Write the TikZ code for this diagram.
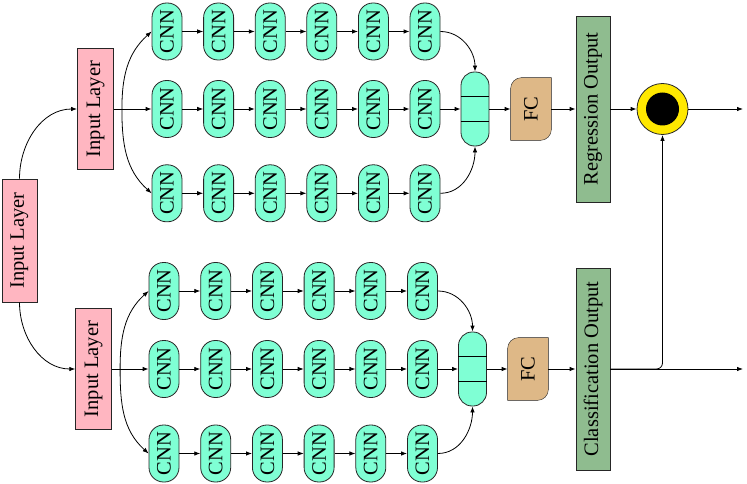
\documentclass[tikz,border=0pt]{standalone}
\usepackage{fontspec}
\setmainfont{Liberation Serif}
\usepackage{graphicx}
\usetikzlibrary{arrows.meta,backgrounds}
\definecolor{cnnfill}{HTML}{7FFFD4}
\definecolor{inpink}{HTML}{FFB6C1}
\definecolor{fctan}{HTML}{DEB887}
\definecolor{outgreen}{HTML}{8FBC8F}
\definecolor{ringyellow}{HTML}{FFE800}
\begin{document}
\begin{tikzpicture}[x=1pt,y=1pt,font=\fontsize{20.5}{24}\selectfont,line width=0.8pt,
  box/.style={draw=black!85,inner sep=0pt},
  cnn/.style={box,fill=cnnfill,rounded corners=14.5pt,minimum width=30pt,minimum height=57pt},
  merge/.style={box,fill=cnnfill,rounded corners=13.5pt,minimum width=28pt,minimum height=74pt},
  inlayer/.style={box,fill=inpink,minimum width=36pt,minimum height=121pt},
  outlayer/.style={box,fill=outgreen,minimum width=34pt},
  fcbox/.style={inner sep=0pt,minimum width=40pt,minimum height=62pt},
  arr/.style={-{Latex[length=6pt,width=4.5pt]}}]
\useasboundingbox (0,0) rectangle (747,483);

\node[inlayer,minimum width=35pt,minimum height=123pt] (in) at (19.5,242.5) {\rotatebox{90}{Input Layer}};
\node[inlayer] (in1) at (95.5,374) {\rotatebox{90}{Input Layer}};
\node[inlayer] (in2) at (93.7,114) {\rotatebox{90}{Input Layer}};

% upper branch
\foreach \r/\y in {1/451.5,2/374,3/289.7}
  \foreach \c in {0,...,5}
    \node[cnn] (u\r\c) at ({167+51.6*\c},\y) {\rotatebox{90}{CNN}};
% lower branch
\foreach \r/\y in {1/192,2/114,3/29.5}
  \foreach \c in {0,...,5}
    \node[cnn] (l\r\c) at ({164+51.7*\c},\y) {\rotatebox{90}{CNN}};

\node[merge] (m1) at (475,374) {};
\node[merge] (m2) at (472.5,114) {};
\draw ([yshift=12.5pt]m1.west) -- ([yshift=12.5pt]m1.east);
\draw ([yshift=-12.5pt]m1.west) -- ([yshift=-12.5pt]m1.east);
\draw ([yshift=12.5pt]m2.west) -- ([yshift=12.5pt]m2.east);
\draw ([yshift=-12.5pt]m2.west) -- ([yshift=-12.5pt]m2.east);

\node[fcbox] (f1) at (531,374) {\rotatebox{90}{FC}};
\node[fcbox] (f2) at (528,114) {\rotatebox{90}{FC}};
\begin{scope}[on background layer]
\foreach \f in {f1,f2}
  \draw[fill=fctan,draw=black!85] ([yshift=-11pt]\f.north west) arc[start angle=180,end angle=90,radius=11pt]
    -- (\f.north east) -- ([yshift=11pt]\f.south east) arc[start angle=0,end angle=-90,radius=11pt]
    -- (\f.south west) -- cycle;
\end{scope}

\node[outlayer,minimum height=186pt] (reg) at (593,374) {\rotatebox{90}{Regression Output}};
\node[outlayer,minimum height=202pt] (cls) at (593,114) {\rotatebox{90}{Classification Output}};

\node[circle,draw=black!85,fill=ringyellow,minimum size=51pt] (o) at (662.5,374) {};
\fill (o) circle (16.5pt);

\coordinate (end1) at (743,374);
\coordinate (end2) at (743,114);
\coordinate (s1) at ([xshift=8pt]in1.east);
\coordinate (s2) at ([xshift=8pt]in2.east);

\draw[arr] (in.north) to[out=90,in=180] (in1.west);
\draw[arr] (in.south) to[out=-90,in=180] (in2.west);

\draw[arr] (in1.east) -- (u20.west);
\draw[arr] (s1) to[out=90,in=222] (u10.west);
\draw[arr] (s1) to[out=-90,in=138] (u30.west);
\draw[arr] (in2.east) -- (l20.west);
\draw[arr] (s2) to[out=90,in=222] (l10.west);
\draw[arr] (s2) to[out=-90,in=138] (l30.west);

\foreach \r in {1,2,3}
  \foreach \c [count=\n from 1] in {0,...,4} {
    \draw[arr] (u\r\c.east) -- (u\r\n.west);
    \draw[arr] (l\r\c.east) -- (l\r\n.west);
  }

\draw[arr] (u15.east) to[out=0,in=90] (m1.north);
\draw[arr] (u25.east) -- (m1.west);
\draw[arr] (u35.east) to[out=0,in=-90] (m1.south);
\draw[arr] (l15.east) to[out=0,in=90] (m2.north);
\draw[arr] (l25.east) -- (m2.west);
\draw[arr] (l35.east) to[out=0,in=-90] (m2.south);

\draw[arr] (m1.east) -- (f1.west);
\draw[arr] (f1.east) -- (reg.west);
\draw[arr] (reg.east) -- (o.west);
\draw[arr] (o.east) -- (end1);
\draw[arr] (m2.east) -- (f2.west);
\draw[arr] (f2.east) -- (cls.west);
\draw[arr] (cls.east) -- (end2);
\draw[arr,rounded corners=6pt] (cls.east) -| (o.south);
\end{tikzpicture}
\end{document}
